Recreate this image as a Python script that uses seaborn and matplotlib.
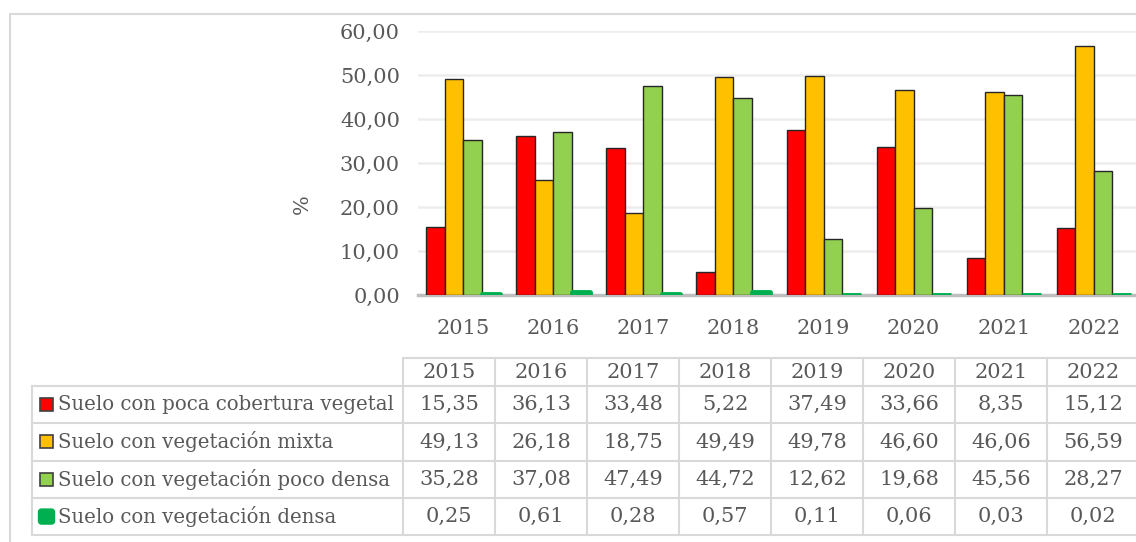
import pandas as pd
import matplotlib.pyplot as plt
import seaborn as sns
from matplotlib.patches import Rectangle, FancyBboxPatch

# Datos
anios = ['2015', '2016', '2017', '2018', '2019', '2020', '2021', '2022']
series = ['Suelo con poca cobertura vegetal', 'Suelo con vegetación mixta',
          'Suelo con vegetación poco densa', 'Suelo con vegetación densa']
poca_cobertura = [15.35, 36.13, 33.48, 5.22, 37.49, 33.66, 8.35, 15.12]
veg_mixta = [49.13, 26.18, 18.75, 49.49, 49.78, 46.60, 46.06, 56.59]
veg_poco_densa = [35.28, 37.08, 47.49, 44.72, 12.62, 19.68, 45.56, 28.27]
veg_densa = [0.25, 0.61, 0.28, 0.57, 0.11, 0.06, 0.03, 0.02]
colores = ['#FF0000', '#FFC000', '#92D050', '#00B050']

valores = [poca_cobertura, veg_mixta, veg_poco_densa, veg_densa]
df = pd.DataFrame([(a, s, v) for s, vals in zip(series, valores) for a, v in zip(anios, vals)],
                  columns=['Año', 'Serie', 'Valor'])

sns.set_style('white')
plt.rcParams['font.family'] = ['DejaVu Serif']
gris_txt = '#595959'
gris_borde = '#D9D9D9'
FS = 15

W, H = 1136, 542
fig = plt.figure(figsize=(W / 100, H / 100), dpi=100)

# Capa de fondo en pixeles para marco y tabla
bg = fig.add_axes([0, 0, 1, 1])
bg.set_xlim(0, W)
bg.set_ylim(H, 0)
bg.axis('off')

# Area del grafico
x0, x1, y0, y1 = 418, 1139, 295, 31
ax = fig.add_axes([x0 / W, (H - y0) / H, (x1 - x0) / W, (y0 - y1) / H])
sns.barplot(data=df, x='Año', y='Valor', hue='Serie', hue_order=series,
            palette=colores, saturation=1, width=0.82, gap=0, edgecolor='#262626',
            linewidth=1, legend=False, ax=ax, zorder=3)
for cont, col in zip(ax.containers, colores):
    for p in cont:
        if col == '#00B050':
            p.set_edgecolor(col)
            p.set_linewidth(3.5)
            p.set_joinstyle('round')
            p.set_zorder(4)
ax.set_ylim(0, 60)
ax.set_xlim(-0.5, len(anios) - 0.5)
ax.set_yticks(range(0, 61, 10))
ax.set_yticklabels([f'{v},00' for v in range(0, 61, 10)])
ax.yaxis.grid(True, color='#EDEDED', linewidth=1.8, zorder=0)
ax.set_axisbelow(True)
for s in ['top', 'right', 'left']:
    ax.spines[s].set_visible(False)
ax.spines['bottom'].set_color('#BFBFBF')
ax.spines['bottom'].set_linewidth(2.5)
ax.spines['bottom'].set_zorder(2)
ax.tick_params(axis='both', length=0, labelsize=FS, labelcolor=gris_txt)
ax.tick_params(axis='y', pad=13)
ax.tick_params(axis='x', pad=17)
ax.set_xlabel('')
ax.set_ylabel('%', fontsize=FS, color=gris_txt, labelpad=20, y=0.345)
ax.patch.set_alpha(0)

# Marco exterior
bg.plot([10, W], [14, 14], color=gris_borde, lw=1.5)
bg.plot([10, 10], [14, H], color=gris_borde, lw=1.5)

# Tabla de datos
tx0, cw = 403, 92
lab_x0 = 32
hy0, hy1 = 358, 386
rh = 37.3
ncol = len(anios)
tx1 = tx0 + cw * ncol
ybot = hy1 + rh * len(series)
lw_t = 1.5
# lineas horizontales
bg.plot([tx0, tx1], [hy0, hy0], color=gris_borde, lw=lw_t)
for i in range(len(series) + 1):
    y = hy1 + rh * i
    bg.plot([lab_x0, tx1], [y, y], color=gris_borde, lw=lw_t)
# lineas verticales
bg.plot([lab_x0, lab_x0], [hy1, ybot], color=gris_borde, lw=lw_t)
for j in range(ncol + 1):
    x = tx0 + cw * j
    bg.plot([x, x], [hy0, ybot], color=gris_borde, lw=lw_t)
# encabezados
for j, a in enumerate(anios):
    bg.text(tx0 + cw * (j + 0.5), (hy0 + hy1) / 2, a, ha='center', va='center',
            fontsize=FS, color=gris_txt)
# filas
for i, (s, vals, col) in enumerate(zip(series, valores, colores)):
    yc = hy1 + rh * (i + 0.5)
    if col == '#00B050':
        bg.add_patch(FancyBboxPatch((40, yc - 6), 13, 12, boxstyle='round,pad=1.5,rounding_size=3',
                                    facecolor=col, edgecolor=col, lw=1))
    else:
        bg.add_patch(Rectangle((40, yc - 6.5), 13, 13, facecolor=col, edgecolor='#404040', lw=1.2))
    bg.text(58, yc, s, ha='left', va='center', fontsize=14.2, color=gris_txt)
    for j, v in enumerate(vals):
        bg.text(tx0 + cw * (j + 0.5), yc, f'{v:.2f}'.replace('.', ','), ha='center',
                va='center', fontsize=FS, color=gris_txt)

fig.savefig('out.png', dpi=100)
